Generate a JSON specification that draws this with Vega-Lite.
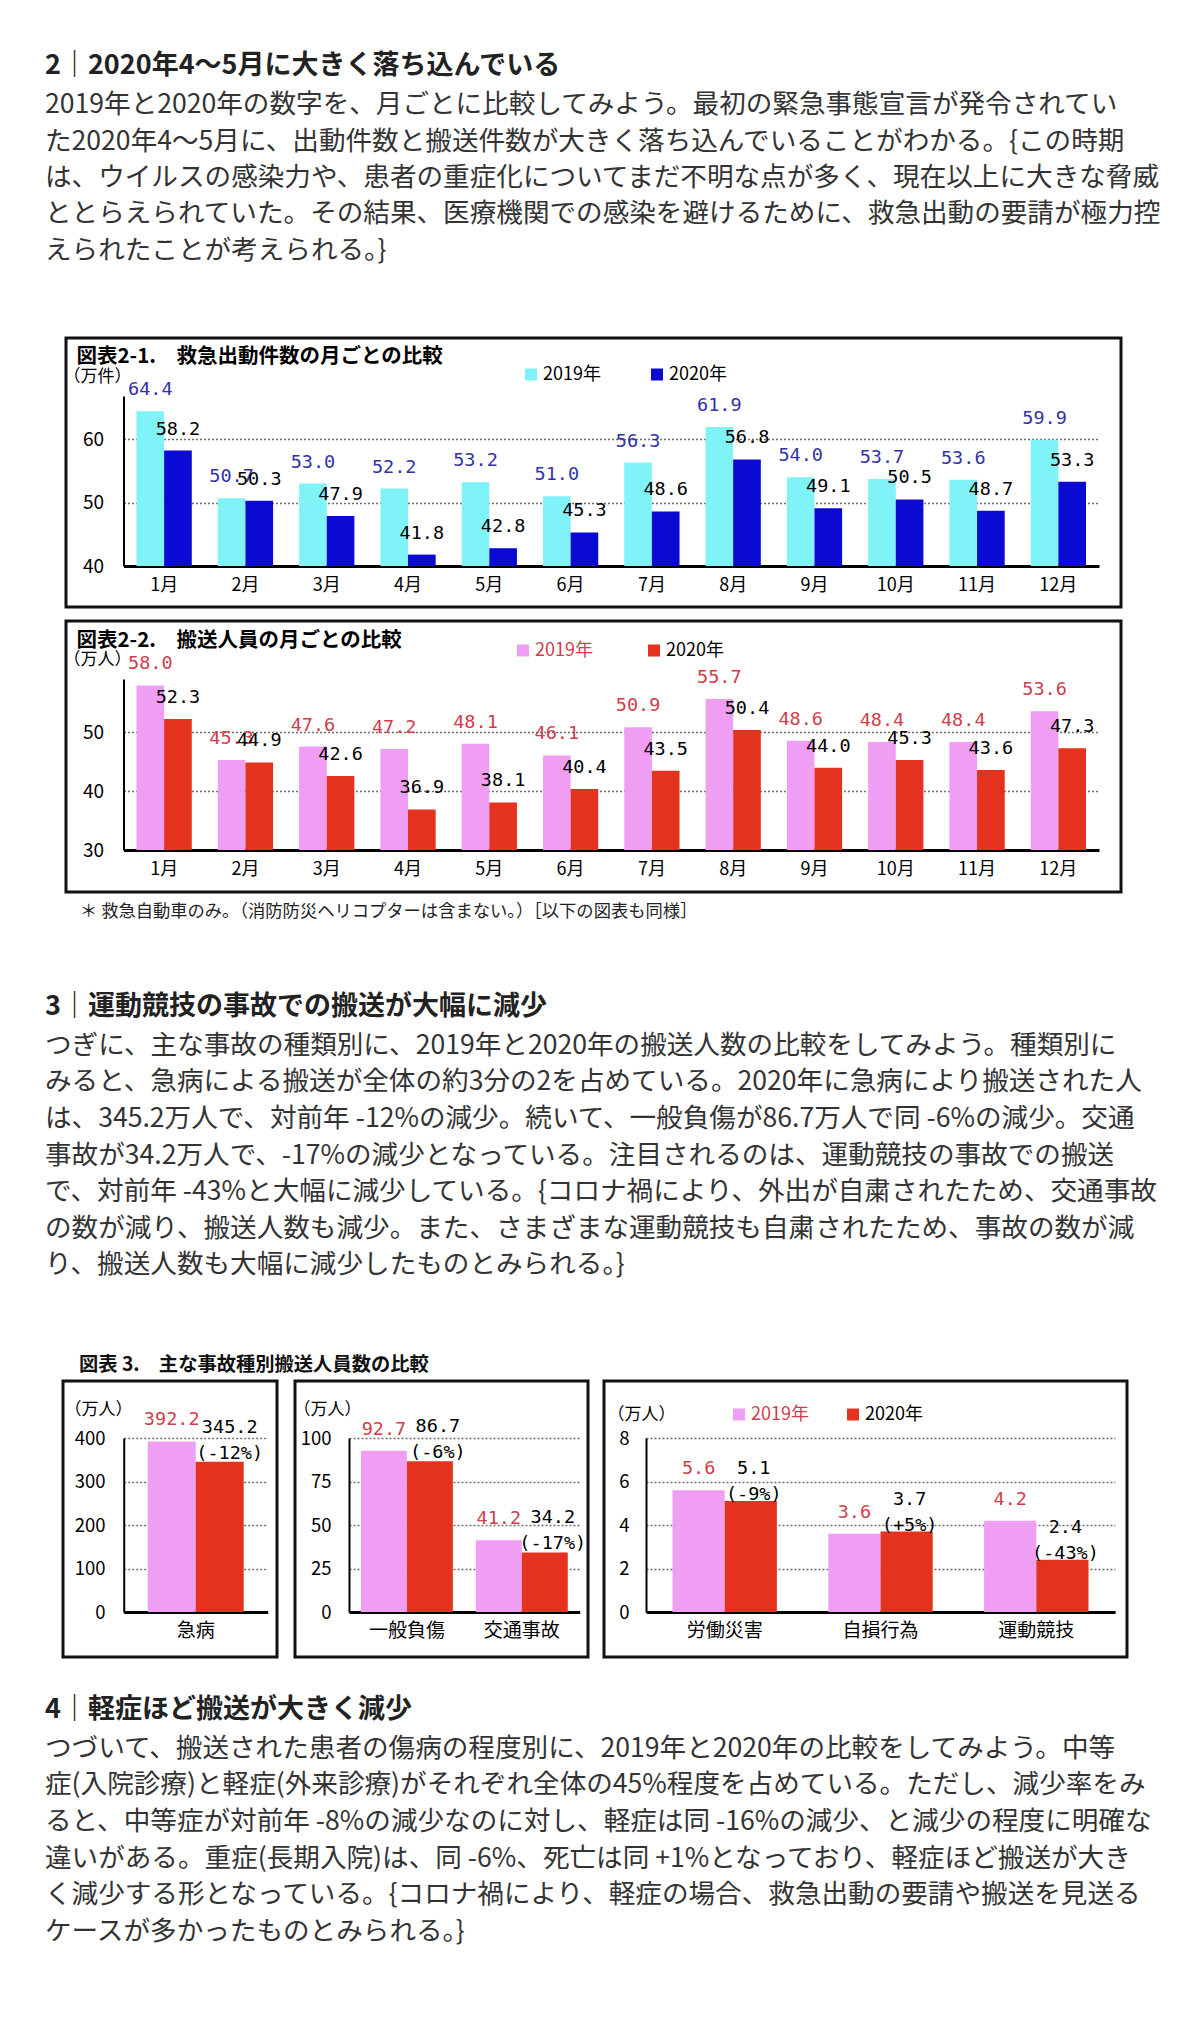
{
  "$schema": "https://vega.github.io/schema/vega-lite/v6.json",
  "padding": {"left": 45, "top": 0, "right": 0, "bottom": 0},
  "background": "white",
  "spacing": 0,
  "resolve": {"scale": {"x": "independent", "y": "independent", "xOffset": "independent", "color": "independent"}, "legend": {"color": "independent"}},
  "config": {
    "view": {"stroke": null},
    "font": "Noto Sans CJK JP",
    "axis": {"ticks": false, "labelFont": "Noto Sans CJK JP", "labelColor": "#000000", "domainColor": "#000000", "titleColor": "#000000", "titleFont": "Noto Sans CJK JP", "labelAngle": 0},
    "text": {"font": "Noto Sans CJK JP"}
  },
  "datasets": {
    "c1": [
      {"month": "1月", "year": "2019年", "value": 64.4}, {"month": "1月", "year": "2020年", "value": 58.2},
      {"month": "2月", "year": "2019年", "value": 50.7}, {"month": "2月", "year": "2020年", "value": 50.3},
      {"month": "3月", "year": "2019年", "value": 53.0}, {"month": "3月", "year": "2020年", "value": 47.9},
      {"month": "4月", "year": "2019年", "value": 52.2}, {"month": "4月", "year": "2020年", "value": 41.8},
      {"month": "5月", "year": "2019年", "value": 53.2}, {"month": "5月", "year": "2020年", "value": 42.8},
      {"month": "6月", "year": "2019年", "value": 51.0}, {"month": "6月", "year": "2020年", "value": 45.3},
      {"month": "7月", "year": "2019年", "value": 56.3}, {"month": "7月", "year": "2020年", "value": 48.6},
      {"month": "8月", "year": "2019年", "value": 61.9}, {"month": "8月", "year": "2020年", "value": 56.8},
      {"month": "9月", "year": "2019年", "value": 54.0}, {"month": "9月", "year": "2020年", "value": 49.1},
      {"month": "10月", "year": "2019年", "value": 53.7}, {"month": "10月", "year": "2020年", "value": 50.5},
      {"month": "11月", "year": "2019年", "value": 53.6}, {"month": "11月", "year": "2020年", "value": 48.7},
      {"month": "12月", "year": "2019年", "value": 59.9}, {"month": "12月", "year": "2020年", "value": 53.3}
    ],
    "c2": [
      {"month": "1月", "year": "2019年", "value": 58.0}, {"month": "1月", "year": "2020年", "value": 52.3},
      {"month": "2月", "year": "2019年", "value": 45.3}, {"month": "2月", "year": "2020年", "value": 44.9},
      {"month": "3月", "year": "2019年", "value": 47.6}, {"month": "3月", "year": "2020年", "value": 42.6},
      {"month": "4月", "year": "2019年", "value": 47.2}, {"month": "4月", "year": "2020年", "value": 36.9},
      {"month": "5月", "year": "2019年", "value": 48.1}, {"month": "5月", "year": "2020年", "value": 38.1},
      {"month": "6月", "year": "2019年", "value": 46.1}, {"month": "6月", "year": "2020年", "value": 40.4},
      {"month": "7月", "year": "2019年", "value": 50.9}, {"month": "7月", "year": "2020年", "value": 43.5},
      {"month": "8月", "year": "2019年", "value": 55.7}, {"month": "8月", "year": "2020年", "value": 50.4},
      {"month": "9月", "year": "2019年", "value": 48.6}, {"month": "9月", "year": "2020年", "value": 44.0},
      {"month": "10月", "year": "2019年", "value": 48.4}, {"month": "10月", "year": "2020年", "value": 45.3},
      {"month": "11月", "year": "2019年", "value": 48.4}, {"month": "11月", "year": "2020年", "value": 43.6},
      {"month": "12月", "year": "2019年", "value": 53.6}, {"month": "12月", "year": "2020年", "value": 47.3}
    ],
    "c3a": [
      {"cat": "急病", "year": "2019年", "value": 392.2},
      {"cat": "急病", "year": "2020年", "value": 345.2, "change": "(-12%)"}
    ],
    "c3b": [
      {"cat": "一般負傷", "year": "2019年", "value": 92.7},
      {"cat": "一般負傷", "year": "2020年", "value": 86.7, "change": "(-6%)"},
      {"cat": "交通事故", "year": "2019年", "value": 41.2},
      {"cat": "交通事故", "year": "2020年", "value": 34.2, "change": "(-17%)"}
    ],
    "c3c": [
      {"cat": "労働災害", "year": "2019年", "value": 5.6},
      {"cat": "労働災害", "year": "2020年", "value": 5.1, "change": "(-9%)"},
      {"cat": "自損行為", "year": "2019年", "value": 3.6},
      {"cat": "自損行為", "year": "2020年", "value": 3.7, "change": "(+5%)"},
      {"cat": "運動競技", "year": "2019年", "value": 4.2},
      {"cat": "運動競技", "year": "2020年", "value": 2.4, "change": "(-43%)"}
    ]
  },
  "vconcat": [
    {
      "width": 1094, "height": 335.5,
      "encoding": {
        "x": {"datum": 0, "type": "quantitative", "scale": {"domain": [0, 1]}, "axis": null},
        "y": {"field": "line", "type": "quantitative", "scale": {"domain": [-1.894, 7.336], "reverse": true, "nice": false, "zero": false}, "axis": null},
        "text": {"field": "text"}
      },
      "layer": [
        {"data": {"values": [{"line": 0, "text": "2｜2020年4～5月に大きく落ち込んでいる"}]},
         "mark": {"type": "text", "align": "left", "baseline": "middle", "fontSize": 27, "fontWeight": "bold", "color": "#222222", "dy": -3}},
        {"data": {"values": [
          {"line": 1, "text": "2019年と2020年の数字を、月ごとに比較してみよう。最初の緊急事態宣言が発令されてい"},
          {"line": 2, "text": "た2020年4～5月に、出動件数と搬送件数が大きく落ち込んでいることがわかる。{この時期"},
          {"line": 3, "text": "は、ウイルスの感染力や、患者の重症化についてまだ不明な点が多く、現在以上に大きな脅威"},
          {"line": 4, "text": "ととらえられていた。その結果、医療機関での感染を避けるために、救急出動の要請が極力控"},
          {"line": 5, "text": "えられたことが考えられる。}"}
        ]},
         "mark": {"type": "text", "align": "left", "baseline": "middle", "fontSize": 26.6, "color": "#333333"}}
      ]
    },
    {
      "resolve": {"scale": {"x": "independent", "y": "independent", "xOffset": "independent", "color": "independent"}, "legend": {"color": "independent"}},
      "spacing": 14,
      "hconcat": [
        {"width": 2, "height": 1, "data": {"values": []}, "mark": {"type": "point"}, "encoding": {}},
        {
          "resolve": {"scale": {"x": "independent", "y": "independent", "xOffset": "independent", "color": "independent"}, "legend": {"color": "independent"}},
          "spacing": 10,
          "vconcat": [
            {
              "width": 1055, "height": 269,
              "view": {"stroke": "#111111", "strokeWidth": 3},
              "data": {"name": "c1"},
              "encoding": {
                "x": {"field": "month", "type": "nominal", "sort": null,
                  "scale": {"range": [57.5, 1033], "paddingInner": 0.32, "paddingOuter": 0.16},
                  "axis": {"orient": "bottom", "offset": -41, "domainWidth": 3, "labelFontSize": 18, "labelPadding": 10,
                    "title": "図表2-1.　救急出動件数の月ごとの比較", "titleX": 10, "titleY": -210, "titleAlign": "left", "titleAnchor": "start", "titleBaseline": "middle", "titleFontSize": 20.5, "titleFontWeight": "bold", "titleAngle": 0}},
                "xOffset": {"field": "year", "type": "nominal", "sort": null},
                "y": {"field": "value", "type": "quantitative",
                  "scale": {"domain": [40, 66.8], "range": [228, 58], "nice": false, "zero": false},
                  "axis": {"orient": "left", "offset": -57.5, "values": [40, 50, 60], "grid": true, "gridColor": "#6e6e6e", "gridDash": [2, 2], "gridWidth": 1.5, "domainWidth": 2, "labelFontSize": 19, "labelPadding": 20,
                    "title": "（万件）", "titleAngle": 0, "titleX": -26.5, "titleY": 38, "titleAlign": "center", "titleBaseline": "middle", "titleFontSize": 17, "titleFontWeight": "normal"}}
              },
              "layer": [
                {"mark": {"type": "bar"},
                 "encoding": {
                   "y2": {"datum": 40},
                   "color": {"field": "year", "type": "nominal", "scale": {"domain": ["2019年", "2020年"], "range": ["#7ff3f7", "#0a0ad2"]},
                     "legend": {"orient": "none", "legendX": 456, "legendY": 27.5, "direction": "horizontal", "title": null, "symbolType": "square", "symbolSize": 144, "symbolStrokeWidth": 0, "labelFontSize": 18, "labelFont": "Noto Sans CJK JP", "labelColor": "#000000", "columnPadding": 47, "labelOffset": 3}}
                 }},
                {"transform": [{"filter": "datum.year == '2019年'"}],
                 "mark": {"type": "text", "font": "DejaVu Sans Mono", "fontSize": 18.5, "baseline": "middle", "dy": -22, "color": "#3232a8"},
                 "encoding": {"text": {"field": "value", "type": "quantitative", "format": ".1f"}}},
                {"transform": [{"filter": "datum.year == '2020年'"}],
                 "mark": {"type": "text", "font": "DejaVu Sans Mono", "fontSize": 18.5, "baseline": "middle", "dy": -22, "color": "#000000"},
                 "encoding": {"text": {"field": "value", "type": "quantitative", "format": ".1f"}}}
              ]
            },
            {
              "width": 1055, "height": 271,
              "view": {"stroke": "#111111", "strokeWidth": 3},
              "data": {"name": "c2"},
              "encoding": {
                "x": {"field": "month", "type": "nominal", "sort": null,
                  "scale": {"range": [57.5, 1033], "paddingInner": 0.32, "paddingOuter": 0.16},
                  "axis": {"orient": "bottom", "offset": -42, "domainWidth": 3, "labelFontSize": 18, "labelPadding": 10,
                    "title": "図表2-2.　搬送人員の月ごとの比較", "titleX": 10, "titleY": -210, "titleAlign": "left", "titleAnchor": "start", "titleBaseline": "middle", "titleFontSize": 20.5, "titleFontWeight": "bold", "titleAngle": 0}},
                "xOffset": {"field": "year", "type": "nominal", "sort": null},
                "y": {"field": "value", "type": "quantitative",
                  "scale": {"domain": [30, 59.1], "range": [229, 58], "nice": false, "zero": false},
                  "axis": {"orient": "left", "offset": -57.5, "values": [30, 40, 50], "grid": true, "gridColor": "#6e6e6e", "gridDash": [2, 2], "gridWidth": 1.5, "domainWidth": 2, "labelFontSize": 19, "labelPadding": 20,
                    "title": "（万人）", "titleAngle": 0, "titleX": -26.5, "titleY": 38, "titleAlign": "center", "titleBaseline": "middle", "titleFontSize": 17, "titleFontWeight": "normal"}}
              },
              "layer": [
                {"mark": {"type": "bar"},
                 "encoding": {
                   "y2": {"datum": 30},
                   "color": {"field": "year", "type": "nominal", "scale": {"domain": ["2019年", "2020年"], "range": ["#ef9ef3", "#e5321f"]},
                     "legend": {"orient": "none", "legendX": 448, "legendY": 20.5, "direction": "horizontal", "title": null, "symbolType": "square", "symbolSize": 144, "symbolStrokeWidth": 0, "labelFontSize": 18, "labelFont": "Noto Sans CJK JP", "labelColor": "#000000", "columnPadding": 52, "labelOffset": 3,
                       "encode": {"labels": {"update": {"fill": {"signal": "datum.value == '2019年' ? '#d23c4b' : '#000000'"}}}}}}
                 }},
                {"transform": [{"filter": "datum.year == '2019年'"}],
                 "mark": {"type": "text", "font": "DejaVu Sans Mono", "fontSize": 18.5, "baseline": "middle", "dy": -22, "color": "#d23c4b"},
                 "encoding": {"text": {"field": "value", "type": "quantitative", "format": ".1f"}}},
                {"transform": [{"filter": "datum.year == '2020年'"}],
                 "mark": {"type": "text", "font": "DejaVu Sans Mono", "fontSize": 18.5, "baseline": "middle", "dy": -22, "color": "#000000"},
                 "encoding": {"text": {"field": "value", "type": "quantitative", "format": ".1f"}}}
              ]
            }
          ]
        }
      ]
    },
    {
      "width": 1024, "height": 38.5,
      "data": {"values": [{"text": "＊ 救急自動車のみ。（消防防災ヘリコプターは含まない。）［以下の図表も同様］"}]},
      "mark": {"type": "text", "align": "left", "baseline": "middle", "fontSize": 17.3, "color": "#222222", "dy": -1, "dx": 35},
      "encoding": {
        "x": {"datum": 0, "type": "quantitative", "scale": {"domain": [0, 1]}, "axis": null},
        "text": {"field": "text"}
      }
    },
    {
      "width": 1094, "height": 419,
      "encoding": {
        "x": {"datum": 0, "type": "quantitative", "scale": {"domain": [0, 1]}, "axis": null},
        "y": {"field": "line", "type": "quantitative", "scale": {"domain": [-2.084, 9.373], "reverse": true, "nice": false, "zero": false}, "axis": null},
        "text": {"field": "text"}
      },
      "layer": [
        {"data": {"values": [{"line": 0, "text": "3｜運動競技の事故での搬送が大幅に減少"}]},
         "mark": {"type": "text", "align": "left", "baseline": "middle", "fontSize": 27, "fontWeight": "bold", "color": "#222222", "dy": -2.5}},
        {"data": {"values": [
          {"line": 1, "text": "つぎに、主な事故の種類別に、2019年と2020年の搬送人数の比較をしてみよう。種類別に"},
          {"line": 2, "text": "みると、急病による搬送が全体の約3分の2を占めている。2020年に急病により搬送された人"},
          {"line": 3, "text": "は、345.2万人で、対前年 -12%の減少。続いて、一般負傷が86.7万人で同 -6%の減少。交通"},
          {"line": 4, "text": "事故が34.2万人で、-17%の減少となっている。注目されるのは、運動競技の事故での搬送"},
          {"line": 5, "text": "で、対前年 -43%と大幅に減少している。{コロナ禍により、外出が自粛されたため、交通事故"},
          {"line": 6, "text": "の数が減り、搬送人数も減少。また、さまざまな運動競技も自粛されたため、事故の数が減"},
          {"line": 7, "text": "り、搬送人数も大幅に減少したものとみられる。}"}
        ]},
         "mark": {"type": "text", "align": "left", "baseline": "middle", "fontSize": 26.6, "color": "#333333"}}
      ]
    },
    {
      "width": 1026, "height": 26.5,
      "data": {"values": [{"text": "図表 3.　主な事故種別搬送人員数の比較"}]},
      "mark": {"type": "text", "align": "left", "baseline": "middle", "fontSize": 19.3, "fontWeight": "bold", "color": "#111111", "dx": 34},
      "encoding": {
        "x": {"datum": 0, "type": "quantitative", "scale": {"domain": [0, 1]}, "axis": null},
        "text": {"field": "text"}
      }
    },
    {
      "resolve": {"scale": {"x": "independent", "y": "independent", "xOffset": "independent", "color": "independent"}, "legend": {"color": "independent"}},
      "spacing": 12,
      "hconcat": [
        {"width": 3.5, "height": 1, "data": {"values": []}, "mark": {"type": "point"}, "encoding": {}},
        {
          "width": 214, "height": 276,
          "view": {"stroke": "#111111", "strokeWidth": 3},
          "data": {"name": "c3a"},
          "encoding": {
            "x": {"field": "cat", "type": "nominal", "sort": null,
              "scale": {"range": [60.7, 204.7], "paddingInner": 0.3, "paddingOuter": 0.175},
              "axis": {"orient": "bottom", "offset": -45, "domainWidth": 3, "labelFontSize": 19, "labelPadding": 9, "title": null}},
            "xOffset": {"field": "year", "type": "nominal", "sort": null},
            "y": {"field": "value", "type": "quantitative",
              "scale": {"domain": [0, 400], "range": [231, 57], "nice": false},
              "axis": {"orient": "left", "offset": -60.7, "values": [0, 100, 200, 300, 400], "grid": true, "gridColor": "#6e6e6e", "gridDash": [2, 2], "gridWidth": 1.5, "domainWidth": 2, "labelFontSize": 18.5, "labelPadding": 18.7,
                "title": "（万人）", "titleAngle": 0, "titleX": -25.7, "titleY": 28, "titleAlign": "center", "titleBaseline": "middle", "titleFontSize": 17, "titleFontWeight": "normal"}}
          },
          "layer": [
            {"mark": {"type": "bar"},
             "encoding": {"color": {"field": "year", "type": "nominal", "scale": {"domain": ["2019年", "2020年"], "range": ["#ef9ef3", "#e5321f"]}, "legend": null}}},
            {"transform": [{"filter": "datum.year == '2019年'"}],
             "mark": {"type": "text", "font": "DejaVu Sans Mono", "fontSize": 18.5, "baseline": "middle", "dy": -22, "color": "#d23c4b"},
             "encoding": {"text": {"field": "value", "type": "quantitative", "format": ".1f"}}},
            {"transform": [{"filter": "datum.year == '2020年'"}],
             "mark": {"type": "text", "font": "DejaVu Sans Mono", "fontSize": 18.5, "baseline": "middle", "dy": -35, "dx": 10, "color": "#000000"},
             "encoding": {"text": {"field": "value", "type": "quantitative", "format": ".1f"}}},
            {"transform": [{"filter": "datum.year == '2020年'"}],
             "mark": {"type": "text", "font": "DejaVu Sans Mono", "fontSize": 18.5, "baseline": "middle", "dy": -9, "dx": 10, "color": "#000000"},
             "encoding": {"text": {"field": "change", "type": "nominal"}}}
          ]
        },
        {
          "width": 293, "height": 276,
          "view": {"stroke": "#111111", "strokeWidth": 3},
          "data": {"name": "c3b"},
          "encoding": {
            "x": {"field": "cat", "type": "nominal", "sort": null,
              "scale": {"range": [54, 284.7], "paddingInner": 0.2, "paddingOuter": 0.104},
              "axis": {"orient": "bottom", "offset": -45, "domainWidth": 3, "labelFontSize": 19, "labelPadding": 9, "title": null}},
            "xOffset": {"field": "year", "type": "nominal", "sort": null},
            "y": {"field": "value", "type": "quantitative",
              "scale": {"domain": [0, 100], "range": [231, 57], "nice": false},
              "axis": {"orient": "left", "offset": -54, "values": [0, 25, 50, 75, 100], "grid": true, "gridColor": "#6e6e6e", "gridDash": [2, 2], "gridWidth": 1.5, "domainWidth": 2, "labelFontSize": 18.5, "labelPadding": 18,
                "title": "（万人）", "titleAngle": 0, "titleX": -22, "titleY": 28, "titleAlign": "center", "titleBaseline": "middle", "titleFontSize": 17, "titleFontWeight": "normal"}}
          },
          "layer": [
            {"mark": {"type": "bar"},
             "encoding": {"color": {"field": "year", "type": "nominal", "scale": {"domain": ["2019年", "2020年"], "range": ["#ef9ef3", "#e5321f"]}, "legend": null}}},
            {"transform": [{"filter": "datum.year == '2019年'"}],
             "mark": {"type": "text", "font": "DejaVu Sans Mono", "fontSize": 18.5, "baseline": "middle", "dy": -22, "color": "#d23c4b"},
             "encoding": {"text": {"field": "value", "type": "quantitative", "format": ".1f"}}},
            {"transform": [{"filter": "datum.year == '2020年'"}],
             "mark": {"type": "text", "font": "DejaVu Sans Mono", "fontSize": 18.5, "baseline": "middle", "dy": -35, "dx": 8, "color": "#000000"},
             "encoding": {"text": {"field": "value", "type": "quantitative", "format": ".1f"}}},
            {"transform": [{"filter": "datum.year == '2020年'"}],
             "mark": {"type": "text", "font": "DejaVu Sans Mono", "fontSize": 18.5, "baseline": "middle", "dy": -9, "dx": 8, "color": "#000000"},
             "encoding": {"text": {"field": "change", "type": "nominal"}}}
          ]
        },
        {
          "width": 523, "height": 276,
          "view": {"stroke": "#111111", "strokeWidth": 3},
          "data": {"name": "c3c"},
          "encoding": {
            "x": {"field": "cat", "type": "nominal", "sort": null,
              "scale": {"range": [42, 511], "paddingInner": 0.33, "paddingOuter": 0.17},
              "axis": {"orient": "bottom", "offset": -45, "domainWidth": 3, "labelFontSize": 19, "labelPadding": 9, "title": null}},
            "xOffset": {"field": "year", "type": "nominal", "sort": null},
            "y": {"field": "value", "type": "quantitative",
              "scale": {"domain": [0, 8], "range": [231, 57], "nice": false},
              "axis": {"orient": "left", "offset": -42, "values": [0, 2, 4, 6, 8], "grid": true, "gridColor": "#6e6e6e", "gridDash": [2, 2], "gridWidth": 1.5, "domainWidth": 2, "labelFontSize": 18.5, "labelPadding": 17,
                "title": "（万人）", "titleAngle": 0, "titleX": -5, "titleY": 33, "titleAlign": "center", "titleBaseline": "middle", "titleFontSize": 17, "titleFontWeight": "normal"}}
          },
          "layer": [
            {"mark": {"type": "bar"},
             "encoding": {"color": {"field": "year", "type": "nominal", "scale": {"domain": ["2019年", "2020年"], "range": ["#ef9ef3", "#e5321f"]},
               "legend": {"orient": "none", "legendX": 126, "legendY": 24.5, "direction": "horizontal", "title": null, "symbolType": "square", "symbolSize": 144, "symbolStrokeWidth": 0, "labelFontSize": 18, "labelFont": "Noto Sans CJK JP", "labelColor": "#000000", "columnPadding": 35, "labelOffset": 3,
                 "encode": {"labels": {"update": {"fill": {"signal": "datum.value == '2019年' ? '#d23c4b' : '#000000'"}}}}}}}},
            {"transform": [{"filter": "datum.year == '2019年'"}],
             "mark": {"type": "text", "font": "DejaVu Sans Mono", "fontSize": 18.5, "baseline": "middle", "dy": -22, "color": "#d23c4b"},
             "encoding": {"text": {"field": "value", "type": "quantitative", "format": ".1f"}}},
            {"transform": [{"filter": "datum.year == '2020年'"}],
             "mark": {"type": "text", "font": "DejaVu Sans Mono", "fontSize": 18.5, "baseline": "middle", "dy": -33, "dx": 3, "color": "#000000"},
             "encoding": {"text": {"field": "value", "type": "quantitative", "format": ".1f"}}},
            {"transform": [{"filter": "datum.year == '2020年'"}],
             "mark": {"type": "text", "font": "DejaVu Sans Mono", "fontSize": 18.5, "baseline": "middle", "dy": -7, "dx": 3, "color": "#000000"},
             "encoding": {"text": {"field": "change", "type": "nominal"}}}
          ]
        }
      ]
    },
    {
      "width": 1094, "height": 381.5,
      "encoding": {
        "x": {"datum": 0, "type": "quantitative", "scale": {"domain": [0, 1]}, "axis": null},
        "y": {"field": "line", "type": "quantitative", "scale": {"domain": [-1.453, 8.971], "reverse": true, "nice": false, "zero": false}, "axis": null},
        "text": {"field": "text"}
      },
      "layer": [
        {"data": {"values": [{"line": 0, "text": "4｜軽症ほど搬送が大きく減少"}]},
         "mark": {"type": "text", "align": "left", "baseline": "middle", "fontSize": 27, "fontWeight": "bold", "color": "#222222", "dy": -2.5}},
        {"data": {"values": [
          {"line": 1, "text": "つづいて、搬送された患者の傷病の程度別に、2019年と2020年の比較をしてみよう。中等"},
          {"line": 2, "text": "症(入院診療)と軽症(外来診療)がそれぞれ全体の45%程度を占めている。ただし、減少率をみ"},
          {"line": 3, "text": "ると、中等症が対前年 -8%の減少なのに対し、軽症は同 -16%の減少、と減少の程度に明確な"},
          {"line": 4, "text": "違いがある。重症(長期入院)は、同 -6%、死亡は同 +1%となっており、軽症ほど搬送が大き"},
          {"line": 5, "text": "く減少する形となっている。{コロナ禍により、軽症の場合、救急出動の要請や搬送を見送る"},
          {"line": 6, "text": "ケースが多かったものとみられる。}"}
        ]},
         "mark": {"type": "text", "align": "left", "baseline": "middle", "fontSize": 26.6, "color": "#333333"}}
      ]
    }
  ]
}
